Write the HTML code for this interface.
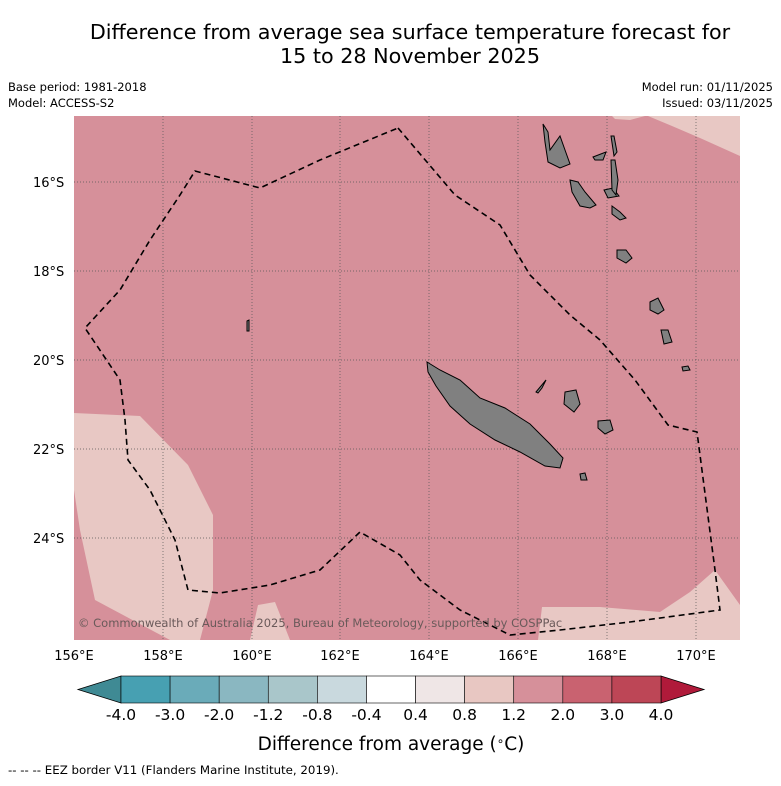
<!DOCTYPE html>
<html><head><meta charset="utf-8"><style>
body{margin:0;background:#fff;font-family:"Liberation Sans","DejaVu Sans",sans-serif}
svg text{font-family:"DejaVu Sans","Liberation Sans",sans-serif}
</style></head><body>
<svg width="781" height="781" viewBox="0 0 781 781" xmlns="http://www.w3.org/2000/svg">
<text x="410" y="39" font-size="20.7" text-anchor="middle">Difference from average sea surface temperature forecast for</text>
<text x="410" y="63" font-size="20.7" text-anchor="middle">15 to 28 November 2025</text>
<text x="8" y="91" font-size="11.5">Base period: 1981-2018</text>
<text x="8" y="107" font-size="11.5">Model: ACCESS-S2</text>
<text x="773" y="91" font-size="11.5" text-anchor="end">Model run: 01/11/2025</text>
<text x="773" y="107" font-size="11.5" text-anchor="end">Issued: 03/11/2025</text>
<defs><clipPath id="mc"><rect x="74" y="116" width="666" height="524"/></clipPath></defs>
<g clip-path="url(#mc)">
<rect x="74" y="116" width="666" height="524" fill="#d6909a"/>
<polygon fill="#e8c8c4" points="74,413 140,416 188,465 213,515 213,590 200,640 170,640 95,600 80,530 74,490"/>
<polygon fill="#e8c8c4" points="250,640 258,605 275,602 290,640"/>
<polygon fill="#e8c8c4" points="538,640 542,607 600,607 660,612 690,592 715,570 740,605 740,640"/>
<polygon fill="#e8c8c4" points="648,116 672,126 700,138 740,156 740,116"/>
<polygon fill="#e8c8c4" points="612,116 645,116 630,120 615,119"/>
<g stroke="#555" stroke-width="0.7" stroke-dasharray="1,2">
<line x1="163" y1="116" x2="163" y2="640"/><line x1="252" y1="116" x2="252" y2="640"/><line x1="340" y1="116" x2="340" y2="640"/><line x1="429" y1="116" x2="429" y2="640"/><line x1="518" y1="116" x2="518" y2="640"/><line x1="607" y1="116" x2="607" y2="640"/><line x1="696" y1="116" x2="696" y2="640"/>
<line x1="74" y1="182" x2="740" y2="182"/><line x1="74" y1="271" x2="740" y2="271"/><line x1="74" y1="360" x2="740" y2="360"/><line x1="74" y1="449" x2="740" y2="449"/><line x1="74" y1="538" x2="740" y2="538"/>
</g>
<g fill="#808080" stroke="#000" stroke-width="1">
<polygon points="427,362 440,370 460,380 480,398 505,408 530,424 550,444 563,458 560,468 545,466 520,452 495,440 470,424 450,406 436,386 428,372"/>
<polygon points="565,392 576,390 580,404 574,412 564,404"/>
<polygon points="598,421 610,420 613,430 605,434 598,428"/>
<polygon points="536,392 546,380 542,388 538,393"/>
<polygon points="543,124 548,132 550,150 560,136 565,150 570,164 560,168 548,162 545,142"/>
<polygon points="570,180 578,182 585,192 596,205 590,208 580,206 572,192"/>
<polygon points="604,190 613,188 619,196 608,198"/>
<polygon points="611,160 615,160 618,180 616,195 612,190"/>
<polygon points="611,136 614,136 617,152 614,156"/>
<polygon points="593,157 606,152 603,160 595,160"/>
<polygon points="612,206 620,212 626,218 620,220 612,214"/>
<polygon points="617,250 626,250 632,258 626,263 617,258"/>
<polygon points="650,302 658,298 664,310 658,314 650,310"/>
<polygon points="661,330 668,330 672,342 664,344"/>
<polygon points="682,367 688,366 690,370 683,371"/>
<polygon points="580,474 585,473 587,480 581,480"/>
<polygon points="247,321 249,320 249,331 247,331"/>
</g>
<path fill="none" stroke="#000" stroke-width="1.6" stroke-dasharray="6,4" d="M398,128 L455,195 L500,225 L530,275 L570,315 L600,340 L635,380 L668,425 L697,432 L715,570 L720,610 L630,622 L560,630 L510,635 L460,610 L420,580 L400,555 L360,532 L320,570 L270,585 L220,593 L188,590 L175,540 L150,490 L128,460 L125,420 L120,380 L85,328 L120,290 L150,240 L180,195 L195,171 L260,188 L320,160 Z"/>
<text x="78" y="627" font-size="11.5" fill="#6a5a5a">© Commonwealth of Australia 2025, Bureau of Meteorology, supported by COSPPac</text>
</g>
<g font-size="13">
<text x="33" y="187">16°S</text><text x="33" y="276">18°S</text><text x="33" y="365">20°S</text><text x="33" y="454">22°S</text><text x="33" y="543">24°S</text>
</g>
<g font-size="13" text-anchor="middle">
<text x="74" y="660">156°E</text><text x="163" y="660">158°E</text><text x="252" y="660">160°E</text><text x="340" y="660">162°E</text><text x="429" y="660">164°E</text><text x="518" y="660">166°E</text><text x="607" y="660">168°E</text><text x="696" y="660">170°E</text>
</g>
<g id="cb"></g>
<text x="391" y="750" font-size="18.5" text-anchor="middle">Difference from average (<tspan dy="-5" font-size="12">∘</tspan><tspan dy="5">C)</tspan></text>
<text x="8" y="774" font-size="11.8">--  --  -- EEZ border V11 (Flanders Marine Institute, 2019).</text>
</svg>
<script>
const cbColors=["#47a0b2","#6aabb9","#8ab7c1","#a9c6ca","#c9d9de","#ffffff","#efe6e6","#e8c7c2","#d6909a","#c96270","#bd4656"];
const cbTicks=["-4.0","-3.0","-2.0","-1.2","-0.8","-0.4","0.4","0.8","1.2","2.0","3.0","4.0"];
const ns="http://www.w3.org/2000/svg";
const g=document.getElementById('cb');
const x0=121,x1=661,y0=676,h=27,w=(x1-x0)/cbColors.length;
function mk(t,a){const e=document.createElementNS(ns,t);for(const k in a)e.setAttribute(k,a[k]);g.appendChild(e);return e;}
let e=mk('polygon',{points:`78,${y0+h/2} ${x0},${y0} ${x0},${y0+h}`,fill:'#3f8a94',stroke:'#000','stroke-width':0.8});


e=mk('polygon',{points:`704,${y0+h/2} ${x1},${y0} ${x1},${y0+h}`,fill:'#b01a3a',stroke:'#000','stroke-width':0.8});


cbColors.forEach((c,i)=>{
 const r=mk('rect',{x:x0+i*w,y:y0,width:w,height:h,fill:c,stroke:'#000','stroke-width':0.6});
 
 
});
cbTicks.forEach((t,i)=>{
 const tx=mk('text',{x:x0+i*w,y:720,'font-size':15.5,'text-anchor':'middle'});
 tx.textContent=t;
 
 
});
</script>
</body></html>
